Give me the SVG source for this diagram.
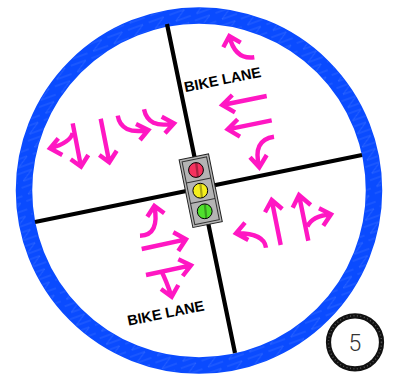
<svg xmlns="http://www.w3.org/2000/svg" width="393" height="375" viewBox="0 0 393 375">
<style>
.a{fill:none;stroke:#ff17c3;stroke-width:4.4;stroke-linecap:butt;stroke-linejoin:miter}
.r{fill:none;stroke:#000;stroke-width:4.2}
.t{font-family:"Liberation Sans",Arial,sans-serif;font-weight:700;font-size:14.5px;fill:#000;text-anchor:middle}
.c{fill:#b4b4b4;stroke:#222;stroke-width:1}
.l{stroke:#000;stroke-width:1}
.s{fill:#000;opacity:.3}
</style>
<defs>
<pattern id="w" width="22" height="14" patternUnits="userSpaceOnUse" patternTransform="rotate(-20)">
<path d="M0 2H16L4 10H20" fill="none" stroke="#5f8dff" stroke-width=".6"/>
</pattern>
</defs>
<rect width="393" height="375" fill="#fff"/>
<g id="ring">
<circle cx="199" cy="190.5" r="175" fill="none" stroke="#0a4bff" stroke-width="16.5"/>
<circle cx="199" cy="190.5" r="175" fill="none" stroke="url(#w)" stroke-width="15" opacity=".6"/>
</g>
<g id="roads">
<path class="r" d="M167 24L235 353M35 222L362 155"/>
</g>
<g id="signal">
<g transform="translate(200.7 190.7) rotate(-11.5)">
<rect x="-15" y="-34.5" width="30" height="69" class="c"/>
<rect x="-12.5" y="-32" width="25" height="64" fill="none" stroke="#333" stroke-width="1"/>
<path d="M-12.5 -10.5H12.5M-12.5 10.5H12.5" stroke="#333" stroke-width="1"/>
</g>
<circle cx="196" cy="170" r="7.4" class="l" fill="#f5325f"/>
<circle cx="200.3" cy="190.7" r="7.4" class="l" fill="#f4ee1c"/>
<circle cx="204.7" cy="211.3" r="7.4" class="l" fill="#4fe02c"/>
<path class="s" d="M195 163L197.5 163L199 177L196.8 177.3ZM199.3 183.7L201.5 183.6L203 197.6L200.8 197.9ZM203.7 204.3L206 204.3L207.4 218.3L205.2 218.5Z"/>
</g>
<g id="arrows">
<path class="a" d="M72.7 123.3L81 166.7M70.7 159.3L81 166.7L88.3 155"/>
<path class="a" d="M72.7 133Q70 143 50 148.3M58.3 138.3L50 148.3L62.3 155"/>
<path class="a" d="M100.7 118.7L109.3 162.3M99.3 155L109.3 162.3L116.7 150.7"/>
<path class="a" d="M117.7 115.7Q121 135 148.3 130M136 124L148.3 130L140 140"/>
<path class="a" d="M144 109.3Q148 129 174 123.3M161.7 116.7L174 123.3L165 133.3"/>
<path class="a" d="M254.3 57.3Q235 60 229.3 36M223.3 47.3L229.3 36L240.7 42.7"/>
<path class="a" d="M266.7 96L222.3 105M232.3 95L222.3 105L235 112.3"/>
<path class="a" d="M271.7 120.3L227.7 129.3M237.7 119.3L227.7 129.3L240 136.7"/>
<path class="a" d="M274 136.7Q252 140 259.3 167.3M250 157.3L259.3 167.3L266.7 155"/>
<path class="a" d="M140 235.7Q160 235 154.3 206M147.3 216.7L154.3 206L164.3 213.3"/>
<path class="a" d="M141.7 249L186 239.3M173.3 232.3L186 239.3L178.3 251"/>
<path class="a" d="M146 275L191 265.3M178.3 259.3L191 265.3L182.7 276"/>
<path class="a" d="M161.7 271.7Q166 280 171.7 296.7M161 289L171.7 296.7L178.3 285"/>
<path class="a" d="M266 247.7Q264 233 236 233.3M245 222.7L236 233.3L248.3 240"/>
<path class="a" d="M280.7 245L271.7 200M265 212.3L271.7 200L282.3 209"/>
<path class="a" d="M308.3 240.7L299 195M292.7 207.7L299 195L310.7 205"/>
<path class="a" d="M307.3 226.7Q312 216 331 214.3M319 208.3L331 214.3L323.3 225.7"/>
</g>
<g id="labels">
<text class="t" transform="translate(223.5 84.5) rotate(-11.5)">BIKE LANE</text>
<text class="t" transform="translate(166.7 318) rotate(-11.5)">BIKE LANE</text>
</g>
<g id="badge">
<circle cx="355" cy="342.3" r="26.5" fill="#fff" stroke="#111" stroke-width="5.2"/>
<circle cx="355" cy="342.3" r="26.5" fill="none" stroke="#555" stroke-width="1.5" stroke-dasharray="1 2.5"/>
<text x="355" y="351" font-family="Roboto,'Liberation Sans',sans-serif" font-weight="300" font-size="23" fill="#333" text-anchor="middle">5</text>
</g>
</svg>
